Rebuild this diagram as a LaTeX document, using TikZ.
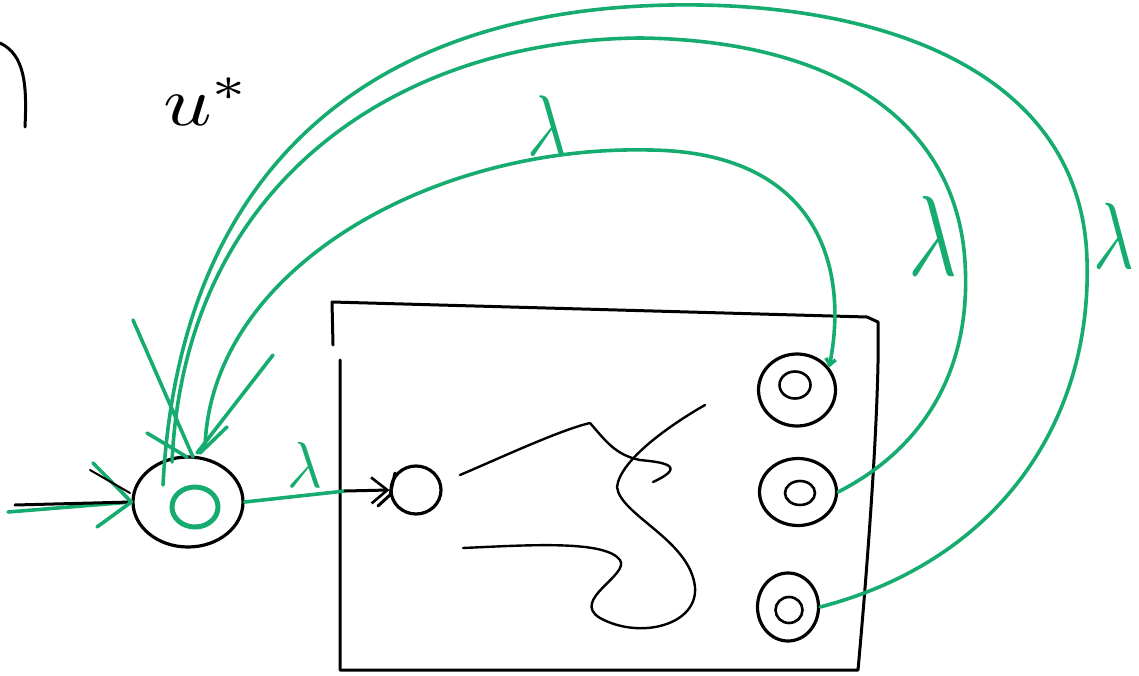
\documentclass[tikz,border=0pt]{standalone}
\usetikzlibrary{shapes.geometric,arrows.meta}
\definecolor{pen}{RGB}{22,172,112}
\begin{document}
\begin{tikzpicture}[x=1pt,y=-1pt,
 ink/.style={line width=3pt, black, line cap=round, line join=round},
 gpen/.style={line width=3.6pt, pen, line cap=round, line join=round},
 ring/.style={ellipse, draw, line width=3.2pt, inner sep=0pt},
 inring/.style={ellipse, draw, line width=2.6pt, inner sep=0pt},
 lam/.style={text=pen, inner sep=0pt, anchor=base}]
\useasboundingbox (0,0) rectangle (1139,676);
% top-left bracket and label
\draw[ink] (0,43) .. controls (25,55) and (27,85) .. (25,127);
\node[anchor=base west, inner sep=0pt] (ustar) at (163,126) {\scalebox{8.5}[7]{$u^{*}$}};
% frame
\draw[ink] (332,302) -- (333,345);
\draw[ink] (340,360) -- (340,670) -- (858,670) .. controls (868,560) and (880,400) .. (878,322) -- (867,317) -- (332,302);
% nodes
\node[ring, minimum width=110pt, minimum height=90pt] (main) at (188,502) {};
\node[ellipse, draw=pen, line width=5pt, minimum width=46pt, minimum height=40pt] (core) at (195,507) {};
\node[ring, minimum width=50pt, minimum height=48pt] (sub) at (416,490) {};
\node[ring, minimum width=77pt, minimum height=72pt] (o1) at (797,390) {};
\node[inring, minimum width=31pt, minimum height=27pt] (i1) at (795,385) {};
\node[ring, minimum width=77pt, minimum height=67pt] (o2) at (798,492) {};
\node[inring, minimum width=30pt, minimum height=24pt] (i2) at (800,493) {};
\node[ring, minimum width=61pt, minimum height=68pt] (o3) at (788,607) {};
\node[inring, minimum width=27pt, minimum height=26pt] (i3) at (789,610) {};
% squiggles inside the frame
\draw[ink, line width=2.4pt] (460,475) .. controls (500,458) and (560,430) .. (590,423) .. controls (605,440) and (615,455) .. (640,460) .. controls (660,462) and (690,465) .. (653,482);
\draw[ink, line width=2.4pt] (705,405) .. controls (670,425) and (620,460) .. (617,487) .. controls (620,515) and (690,540) .. (695,587) .. controls (698,625) and (640,640) .. (600,618) .. controls (570,600) and (630,575) .. (620,560) .. controls (605,540) and (530,545) .. (463,548);
% input arrow
\coordinate (inG) at (8,512);
\coordinate (inK) at (15,505);
\draw[gpen] (inG) -- (main.west);
\draw[ink] (inK) -- (main.west);
\draw[gpen] (93,463) -- (main.west) -- (97,527);
\draw[ink, line width=2pt] (90,470) -- (130,493);
% output connector
\coordinate (mid) at (345,491);
\draw[gpen] (main.east) -- (mid);
\draw[ink, -{Straight Barb[length=16pt,width=26pt,line width=2.6pt]}] (mid) -- (sub.west);
\draw[ink] (395,473) -- (390,495) -- (378,506);
\node[lam] (l0) at (305,487) {\scalebox{6}[6.5]{$\lambda$}};
% feedback arcs
\coordinate (eA) at (205,448);
\coordinate (eB) at (172,462);
\coordinate (eC) at (163,485);
\draw[gpen, {Straight Barb[length=6pt,width=10pt]}-] (o1.35) .. controls (850,260) and (812,152) .. (650,150) .. controls (430,145) and (210,270) .. (eA);
\draw[gpen] (o2.east) .. controls (930,445) and (975,360) .. (964,250) .. controls (948,110) and (820,40) .. (640,38) .. controls (400,40) and (185,180) .. (eB);
\draw[gpen] (o3.east) .. controls (1000,560) and (1092,420) .. (1087,260) .. controls (1082,80) and (900,8) .. (700,5) .. controls (380,0) and (180,160) .. (eC);
% arrow strokes at the main node
\draw[gpen] (133,320) -- (193,457);
\draw[gpen] (273,355) -- (197,453);
\draw[gpen] (147,433) -- (187,457);
\draw[gpen] (227,427) -- (200,453);
% lambda labels
\node[lam] (l1) at (548,156) {\scalebox{6.9}[8.6]{$\lambda$}};
\node[lam] (l2) at (933,275) {\scalebox{8.4}[11.4]{$\lambda$}};
\node[lam] (l3) at (1114,268) {\scalebox{7}[9.4]{$\lambda$}};
\end{tikzpicture}
\end{document}
